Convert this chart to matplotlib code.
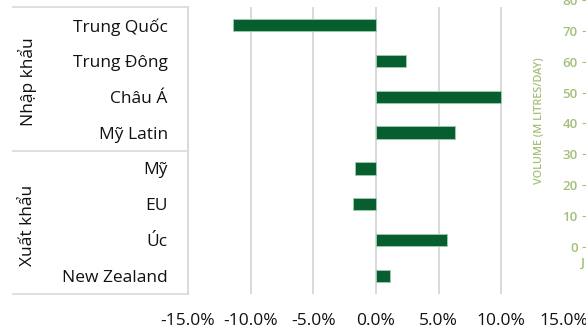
import matplotlib.pyplot as plt
from matplotlib.lines import Line2D

plt.rcParams['font.family'] = ['Open Sans', 'DejaVu Sans']

# thay đổi theo thị trường (%)
markets = ['Trung Quốc', 'Trung Đông', 'Châu Á', 'Mỹ Latin',
           'Mỹ', 'EU', 'Úc', 'New Zealand']
changes = [-11.4, 2.4, 10.0, 6.3, -1.65, -1.85, 5.65, 1.15]
groups = ['Nhập khẩu', 'Xuất khẩu']
group_sizes = [4, 4]
x_ticks = [-15, -10, -5, 0, 5, 10, 15]

# trục bên phải của biểu đồ sản lượng bên cạnh
vol_ticks = [0, 10, 20, 30, 40, 50, 60, 70, 80]

W, H = 586, 331
fig = plt.figure(figsize=(W / 100, H / 100), dpi=100)

left, right, top, bottom = 188, 564, 7, 294
ax = fig.add_axes([left / W, 1 - bottom / H, (right - left) / W, (bottom - top) / H])

bar_color = '#075E2F'
ax.barh(range(len(markets)), changes, height=0.34, color=bar_color,
        edgecolor='#9cc7a8', linewidth=0.7, zorder=3)

ax.set_ylim(len(markets) - 0.5, -0.5)
ax.set_xlim(-15, 15)
ax.set_xticks(x_ticks)
ax.set_xticklabels([f'{t:.1f}%' for t in x_ticks])
ax.set_yticks(range(len(markets)))
ax.set_yticklabels(markets)

ax.tick_params(axis='both', length=0, labelsize=12.5, colors='#111111')
ax.tick_params(axis='y', pad=14.5)
ax.tick_params(axis='x', pad=14)

ax.grid(axis='x', color='#d9d9d9', linewidth=1.4, zorder=0)
ax.set_axisbelow(True)
for line in ax.get_xgridlines()[-1:]:
    line.set_visible(False)
for s in ax.spines.values():
    s.set_visible(False)

# khung bảng nhãn nhóm bên trái
tbl_left = 13
gc = '#d9d9d9'
row_h = (bottom - top) / len(markets)
edges = [top]
for n in group_sizes:
    edges.append(edges[-1] + n * row_h)
for yy in edges:
    fig.add_artist(Line2D([tbl_left / W, left / W], [1 - yy / H, 1 - yy / H],
                          color=gc, linewidth=1.2))
fig.add_artist(Line2D([left / W, left / W], [1 - top / H, 1 - bottom / H],
                      color=gc, linewidth=1.4))
for g, y0, y1 in zip(groups, edges[:-1], edges[1:]):
    fig.text(28 / W, 1 - ((y0 + y1) / 2 + 3) / H, g, rotation=90, ha='center',
             va='center', fontsize=12.5, color='#111111')

# phần trục sản lượng bị cắt ở mép phải
green = '#a3c07a'
y0_px, per10 = 247, 30.9
vax = fig.add_axes([586 / W, 1 - y0_px / H, 0.05, 8 * per10 / H])
vax.set_ylim(0, 80)
vax.set_yticks(vol_ticks)
vax.tick_params(axis='y', length=3, colors=green, labelsize=9.5, pad=3)
vax.tick_params(axis='x', bottom=False, labelbottom=False)
for lab in vax.get_yticklabels():
    lab.set_fontweight('semibold')
for s in vax.spines.values():
    s.set_visible(False)
vax.patch.set_alpha(0)
fig.text(539 / W, 1 - 121 / H, 'VOLUME (M LITRES/DAY)', rotation=90,
         ha='center', va='center', fontsize=7.8, color=green, fontweight='semibold')
fig.text(581 / W, 1 - 263 / H, 'J', ha='left', va='center', fontsize=9.5,
         color=green, fontweight='semibold')

fig.savefig('out.png', dpi=100)
